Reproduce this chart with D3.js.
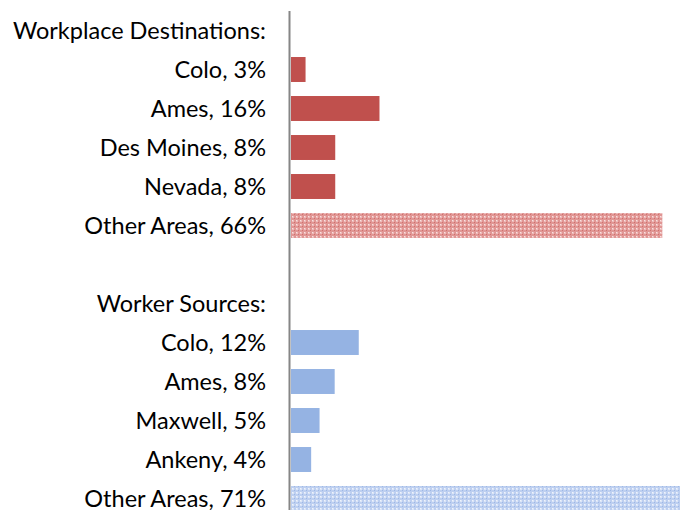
<!DOCTYPE html>
<html><head><meta charset="utf-8">
<script src="https://cdn.jsdelivr.net/npm/d3@7/dist/d3.min.js"></script>
<style>body{margin:0;background:#fff}svg{display:block}</style>
</head><body>
<svg id="c" width="680" height="510"></svg>
<script>
const labels = ["Workplace Destinations:", "Colo, 3%", "Ames, 16%", "Des Moines, 8%", "Nevada, 8%", "Other Areas, 66%", "", "Worker Sources:", "Colo, 12%", "Ames, 8%", "Maxwell, 5%", "Ankeny, 4%", "Other Areas, 71%"];
const values = [null, 2.6, 15.8, 7.9, 7.9, 66.3, null, null, 12.1, 7.8, 5.1, 3.6, 71.2];
const groups = [null, "dest", "dest", "dest", "dest", "dest", null, null, "src", "src", "src", "src", "src"];
const patterned = [false, false, false, false, false, true, false, false, false, false, false, false, true];

const svg = d3.select("#c");
const x = d3.scaleLinear().domain([0, 70]).range([291, 683]);
const y = d3.scaleBand().domain(d3.range(labels.length)).range([11, 518]).paddingInner(0.36).paddingOuter(0.18);

const defs = svg.append("defs");
const pr = defs.append("pattern").attr("id", "pr").attr("patternUnits", "userSpaceOnUse").attr("width", 4).attr("height", 4);
pr.append("rect").attr("width", 4).attr("height", 4).attr("fill", "#e09694");
pr.append("rect").attr("width", 2).attr("height", 2).attr("fill", "#eebbba");
pr.append("rect").attr("width", 1).attr("height", 1).attr("fill", "#f8e2e1");
pr.append("rect").attr("x", 2).attr("y", 2).attr("width", 1).attr("height", 1).attr("fill", "#d26f6c");
const pb = defs.append("pattern").attr("id", "pb").attr("patternUnits", "userSpaceOnUse").attr("width", 4).attr("height", 4);
pb.append("rect").attr("width", 4).attr("height", 4).attr("fill", "#bdcff0");
pb.append("rect").attr("width", 2).attr("height", 2).attr("fill", "#dbe5f7");
pb.append("rect").attr("width", 1).attr("height", 1).attr("fill", "#eff4fc");
pb.append("rect").attr("x", 2).attr("y", 2).attr("width", 1).attr("height", 1).attr("fill", "#9db8e6");

const colors = {dest: "#c0504d", src: "#95b3e3"};
const rows = labels.map((l, i) => ({l, v: values[i], g: groups[i], p: patterned[i], i}));

svg.selectAll("rect.bar").data(rows.filter(d => d.v != null)).join("rect")
  .attr("class", "bar")
  .attr("x", x(0))
  .attr("y", d => y(d.i))
  .attr("width", d => x(d.v) - x(0))
  .attr("height", y.bandwidth())
  .attr("fill", d => d.p ? (d.g === "dest" ? "url(#pr)" : "url(#pb)") : colors[d.g]);

svg.append("line").attr("x1", 289.5).attr("x2", 289.5).attr("y1", 11).attr("y2", 510)
  .attr("stroke", "#868686").attr("stroke-width", 2);

svg.selectAll("text.lab").data(rows).join("text")
  .attr("class", "lab")
  .attr("x", 266)
  .attr("y", d => y(d.i) + y.bandwidth() / 2)
  .attr("dy", "0.35em")
  .attr("text-anchor", "end")
  .attr("font-family", "Lato, 'Open Sans', sans-serif")
  .attr("font-size", 23.5)
  .attr("fill", "#000")
  .text(d => d.l);
</script>
</body></html>
